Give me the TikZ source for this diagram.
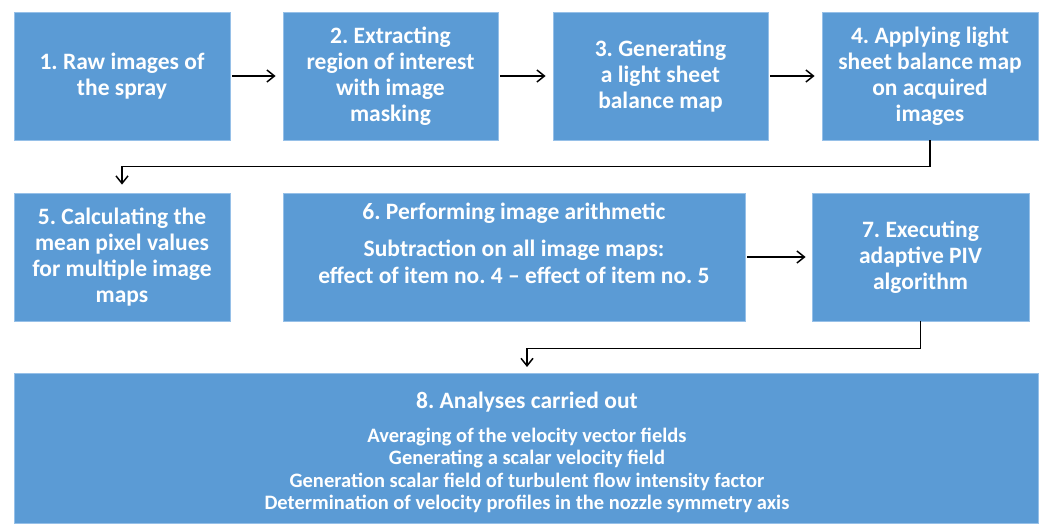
\documentclass[tikz,border=0pt]{standalone}
\usepackage{fontspec}
\setmainfont{Carlito}
\usetikzlibrary{arrows.meta}
\definecolor{boxblue}{RGB}{91,155,213}
\definecolor{boxedge}{RGB}{150,192,232}
\frenchspacing
\begin{document}
\begin{tikzpicture}[x=1pt,y=-1pt,
  box/.style={draw=boxedge, line width=0.8pt, fill=boxblue, inner sep=0pt,
    text=white, font=\bfseries\fontsize{23.5}{26}\selectfont, align=center},
  txt/.style={inner sep=0pt, text=white, align=center},
  arr/.style={draw=black, line width=1.5pt,
    -{Straight Barb[length=7.5pt,width=12pt]}}]
\useasboundingbox (0,0) rectangle (1041,524);

% first row
\node[box, minimum width=216, minimum height=128] (b1) at (122,76)
  {1. Raw images of\\the spray};
\node[box, minimum width=215, minimum height=128] (b2) at (390.5,76)
  {2. Extracting\\region of interest\\with image\\masking};
\node[box, minimum width=215, minimum height=128] (b3) at (660.5,76)
  {3. Generating\\a light sheet\\balance map};
\node[box, minimum width=216, minimum height=128] (b4) at (930,76)
  {4. Applying light\\sheet balance map\\on acquired\\images};

% second row
\node[box, minimum width=216, minimum height=128] (b5) at (122,257)
  {5. Calculating the\\mean pixel values\\for multiple image\\maps};
\node[box, minimum width=462, minimum height=128] (b6) at (514,257) {};
\node[txt, font=\bfseries\fontsize{23.5}{26}\selectfont] (b6t) at (514,213)
  {6. Performing image arithmetic};
\node[txt, font=\bfseries\fontsize{23.5}{27}\selectfont] (b6s) at (514,261.5)
  {Subtraction on all image maps:\\effect of item no.~4 -- effect of item no.~5};
\node[box, minimum width=217, minimum height=128] (b7) at (920.5,257)
  {7. Executing\\adaptive PIV\\algorithm};

% bottom box
\node[box, minimum width=1024, minimum height=150] (b8) at (526,448) {};
\node[txt, font=\bfseries\fontsize{23.5}{26}\selectfont] (b8t) at (527,402)
  {8. Analyses carried out};
\node[txt, font=\bfseries\fontsize{20.5}{22.4}\selectfont] (b8s) at (527,470.5)
  {Averaging of the velocity vector fields\\
   Generating a scalar velocity field\\
   Generation scalar field of turbulent flow intensity factor\\
   Determination of velocity profiles in the nozzle symmetry axis};

% connectors
\draw[arr, shorten <=2pt, shorten >=7pt] (b1) -- (b2);
\draw[arr, shorten <=2pt, shorten >=7pt] (b2) -- (b3);
\draw[arr, shorten <=2pt, shorten >=7pt] (b3) -- (b4);
\draw[arr, shorten >=8pt] (b4.south) -- ++(0,26) -| (b5.north);
\draw[arr, shorten <=2pt, shorten >=6pt] (b6.east) -- (b7.west);
\coordinate (t8) at (527,373);
\draw[arr, shorten >=6pt] (b7.south) -- ++(0,27) -| (t8);
\end{tikzpicture}
\end{document}
